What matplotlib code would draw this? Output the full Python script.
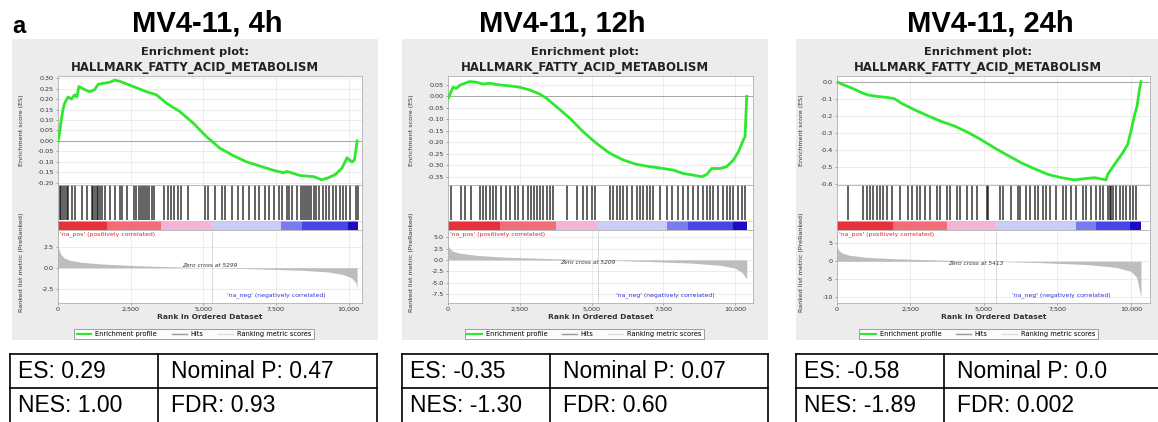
import matplotlib.pyplot as plt
from matplotlib.lines import Line2D
from matplotlib.patches import Rectangle

W, H = 1158, 422

# panel titles and table values
conditions = ["MV4-11, 4h", "MV4-11, 12h", "MV4-11, 24h"]
gene_set = "HALLMARK_FATTY_ACID_METABOLISM"
es_text = ["ES: 0.29", "ES: -0.35", "ES: -0.58"]
nes_text = ["NES: 1.00", "NES: -1.30", "NES: -1.89"]
pval_text = ["Nominal P: 0.47", "Nominal P: 0.07", "Nominal P: 0.0"]
fdr_text = ["FDR: 0.93", "FDR: 0.60", "FDR: 0.002"]
zero_cross = [5299, 5209, 5413]

# running enrichment score
es_rank_4h = [0, 55, 110, 170, 230, 345, 460, 575, 650, 720, 920, 1090, 1260, 1380, 1550,
              1780, 1950, 2125, 2585, 3045, 3390, 3735, 4195, 4655, 5115, 5575, 6035, 6495,
              6955, 7415, 7760, 7875, 8335, 8795, 9080, 9310, 9540, 9770, 9945, 10115, 10200,
              10265, 10290]
es_val_4h = [0.0, 0.04, 0.10, 0.15, 0.18, 0.21, 0.20, 0.22, 0.21, 0.26, 0.245, 0.235, 0.245,
             0.27, 0.275, 0.28, 0.29, 0.285, 0.26, 0.235, 0.22, 0.18, 0.14, 0.085, 0.02, -0.035,
             -0.07, -0.10, -0.12, -0.14, -0.152, -0.145, -0.165, -0.17, -0.185, -0.175, -0.16,
             -0.13, -0.08, -0.10, -0.09, -0.03, 0.0]
es_rank_12h = [0, 58, 175, 290, 430, 582, 756, 990, 1220, 1454, 1800, 2150, 2500, 2850, 3200,
               3430, 3780, 4245, 4710, 5175, 5640, 6106, 6570, 7035, 7500, 7850, 8200, 8550,
               8840, 9014, 9190, 9480, 9710, 9945, 10120, 10290, 10350, 10408]
es_val_12h = [-0.01, 0.006, 0.04, 0.035, 0.05, 0.057, 0.065, 0.062, 0.054, 0.057, 0.05, 0.046,
              0.04, 0.028, 0.01, -0.008, -0.045, -0.095, -0.154, -0.205, -0.248, -0.277,
              -0.296, -0.306, -0.314, -0.321, -0.336, -0.343, -0.35, -0.34, -0.314, -0.314,
              -0.306, -0.277, -0.241, -0.19, -0.175, 0.0]
es_rank_24h = [0, 147, 317, 430, 600, 827, 1053, 1393, 1733, 1960, 2186, 2640, 3093, 3546, 4000,
               4452, 4906, 5360, 5813, 6267, 6720, 7173, 7627, 8080, 8418, 8760, 9154, 9210,
               9440, 9720, 9890, 10003, 10117, 10208, 10287, 10344]
es_val_24h = [0.0, -0.014, -0.025, -0.033, -0.045, -0.064, -0.078, -0.087, -0.093, -0.10,
              -0.126, -0.165, -0.20, -0.233, -0.26, -0.297, -0.34, -0.388, -0.432, -0.475,
              -0.51, -0.543, -0.562, -0.575, -0.568, -0.562, -0.575, -0.543, -0.485, -0.417,
              -0.368, -0.29, -0.20, -0.145, -0.05, 0.0]

# positions of gene-set members in the ranked list
hits_4h = [60, 120, 180, 250, 310, 350, 465, 580, 810, 987, 1161, 1220, 1280, 1340, 1393, 1451,
           1510, 1625, 1800, 1973, 2147, 2205, 2379, 2611, 2700, 2780, 2850, 2920, 3000, 3075,
           3133, 3249, 3307, 3655, 3771, 3887, 4003, 4119, 4235, 4467, 5047, 5163, 5395, 5627,
           5743, 5975, 6207, 6381, 6555, 6787, 6903, 7135, 7251, 7425, 7599, 7715, 7889, 7947,
           8063, 8237, 8353, 8420, 8500, 8580, 8650, 8720, 8800, 8890, 8990, 9107, 9223, 9339,
           9455, 9571, 9687, 9803, 9919, 10035, 10267, 10325]
hits_12h = [117, 466, 582, 815, 1106, 1222, 1340, 1455, 1570, 1687, 1862, 2036, 2152, 2327,
            2443, 2617, 2792, 2890, 2990, 3090, 3199, 3315, 3432, 3548, 3664, 4129, 4478, 4711,
            4827, 5001, 5118, 5641, 5757, 5874, 5990, 6106, 6223, 6397, 6572, 6688, 6804, 6920,
            7037, 7153, 7386, 7618, 7793, 8025, 8200, 8374, 8549, 8723, 8898, 9014, 9130, 9247,
            9421, 9596, 9712, 9828, 9944, 10119, 10235, 10351]
hits_24h = [385, 895, 1008, 1122, 1235, 1348, 1462, 1575, 1688, 1858, 2141, 2425, 2538, 2708,
            2821, 2991, 3161, 3388, 3501, 3728, 3841, 4068, 4181, 4408, 4578, 4748, 5088, 5144,
            5541, 5654, 5937, 6164, 6220, 6447, 6560, 6730, 6843, 7013, 7127, 7240, 7466, 7693,
            7806, 7976, 8146, 8373, 8486, 8656, 8826, 8939, 9053, 9223, 9280, 9340, 9393, 9506,
            9620, 9733, 9846, 9959, 10073, 10186]

# ranked list metric
metric_rank_4h = [0, 30, 80, 200, 400, 800, 1500, 2500, 3500, 4500, 5299, 6500, 7500, 8500,
                  9300, 9800, 10100, 10250, 10290]
metric_val_4h = [2.9, 2.2, 1.7, 1.2, 0.9, 0.65, 0.45, 0.28, 0.16, 0.07, 0.0, -0.1, -0.2, -0.32,
                 -0.5, -0.8, -1.2, -1.8, -2.4]
metric_rank_12h = [0, 50, 150, 400, 1000, 2000, 3500, 5209, 7000, 8500, 9500, 10000, 10250,
                   10408]
metric_val_12h = [3.4, 2.6, 2.0, 1.5, 1.0, 0.6, 0.3, 0.0, -0.35, -0.7, -1.2, -1.8, -2.8, -4.2]
metric_rank_24h = [0, 50, 150, 400, 1000, 2000, 3500, 5413, 7000, 8500, 9500, 10000, 10200,
                   10344]
metric_val_24h = [4.2, 3.2, 2.4, 1.7, 1.1, 0.7, 0.35, 0.0, -0.4, -0.9, -1.7, -2.8, -4.5, -10.0]

# colour band segment boundaries (ranks)
band_edges_4h = [0, 1683, 3539, 5279, 7657, 8411, 9977, 10325]
band_edges_12h = [0, 1803, 3780, 5176, 7618, 8374, 9944, 10408]
band_edges_24h = [0, 1915, 3728, 5370, 8146, 8826, 9959, 10344]
band_colors = ["#e8303a", "#f06d78", "#f4b4da", "#cbcbf7", "#7b7bf0", "#4646e6", "#1c0cc4"]

es_ticks = [[0.30, 0.25, 0.20, 0.15, 0.10, 0.05, 0.00, -0.05, -0.10, -0.15, -0.20],
            [0.05, 0.00, -0.05, -0.10, -0.15, -0.20, -0.25, -0.30, -0.35],
            [0.0, -0.1, -0.2, -0.3, -0.4, -0.5, -0.6]]
es_fmt = ["{:.2f}", "{:.2f}", "{:.1f}"]
metric_ticks = [[2.5, 0.0, -2.5], [5.0, 2.5, 0.0, -2.5, -5.0, -7.5], [5, 0, -5, -10]]
metric_fmt = ["{:.1f}", "{:.1f}", "{:.0f}"]
rank_ticks = [0, 2500, 5000, 7500, 10000]

es_data = [(es_rank_4h, es_val_4h), (es_rank_12h, es_val_12h), (es_rank_24h, es_val_24h)]
hits_data = [hits_4h, hits_12h, hits_24h]
metric_data = [(metric_rank_4h, metric_val_4h), (metric_rank_12h, metric_val_12h),
               (metric_rank_24h, metric_val_24h)]
band_data = [band_edges_4h, band_edges_12h, band_edges_24h]

# layout in pixels
box_left = [12, 402, 796]
box_right = [378, 768, 1170]
ax_left = [58, 448, 837]
ax_right = [362, 753, 1150]
x_max = [10460, 10627, 10650]
es_ylim = [(-0.21, 0.31), (-0.386, 0.089), (-0.605, 0.033)]
metric_ylim = [(-4.2, 4.5), (-9.5, 6.6), (-11.6, 8.7)]
title_x = [207, 562, 990]
sub_x = [195, 585, 978]
legend_x = [194, 584, 978]
zc_text_x = [5220, 4880, 4730]
zc_above = [True, False, False]
neg_text_right = [9210, 9300, 9320]
table_left = [10, 402, 796]
table_split = [158, 550, 944]
table_right = [377, 768, 1170]

plt.rcParams["font.family"] = ["DejaVu Sans"]
fig = plt.figure(figsize=(W / 100, H / 100), dpi=100)
bg = fig.add_axes([0, 0, 1, 1])
bg.set_xlim(0, W)
bg.set_ylim(H, 0)
bg.axis("off")


def px_axes(l, t, r, b):
    return fig.add_axes([l / W, 1 - b / H, (r - l) / W, (b - t) / H])


def style_axes(ax):
    for s in ax.spines.values():
        s.set_color("#b0b0b0")
        s.set_linewidth(0.6)
    ax.tick_params(length=1.5, width=0.5, color="#888888", labelsize=4.6,
                   labelcolor="#333333", pad=1.5)


bg.text(12, 33, "a", fontsize=17, fontweight="bold", family="Liberation Sans")

for i in range(3):
    L, R = ax_left[i], ax_right[i]
    bg.add_patch(Rectangle((box_left[i], 39), box_right[i] - box_left[i], 301,
                           facecolor="#ececec", edgecolor="none"))
    bg.text(title_x[i], 23, conditions[i], fontsize=21, fontweight="bold",
            family="Liberation Sans", ha="center", va="center")
    bg.text(sub_x[i], 52, "Enrichment plot:", fontsize=8.2, fontweight="bold",
            ha="center", va="center", color="#222222")
    bg.text(sub_x[i], 67, gene_set, fontsize=8.4, fontweight="bold",
            ha="center", va="center", color="#222222")

    # running enrichment score
    ax = px_axes(L, 76, R, 185)
    ax.plot(*es_data[i], color="#2ee82e", lw=2.0, zorder=3)
    ax.axhline(0, color="#9a9a9a", lw=0.6)
    ax.set_xlim(0, x_max[i])
    ax.set_ylim(*es_ylim[i])
    ax.set_yticks(es_ticks[i])
    ax.set_yticklabels([es_fmt[i].format(v) for v in es_ticks[i]])
    ax.set_xticks(rank_ticks)
    ax.tick_params(axis="x", labelbottom=False, length=0)
    ax.grid(True, color="#e4e4e4", lw=0.5)
    style_axes(ax)
    bg.text(L - 36, 130, "Enrichment score (ES)", rotation=90, fontsize=4.6,
            ha="center", va="center", color="#333333")

    # hits and colour band
    ax = px_axes(L, 185, R, 230)
    ax.vlines(hits_data[i], 0.22, 1.0, color="black", lw=1.2, alpha=0.72)
    edges = band_data[i]
    ax.broken_barh([(edges[k], edges[k + 1] - edges[k]) for k in range(len(edges) - 1)],
                   (0.0, 0.2), facecolors=band_colors)
    ax.axhline(0.2, color="#cccccc", lw=0.5)
    ax.set_xlim(0, x_max[i])
    ax.set_ylim(0, 1)
    ax.set_xticks([])
    ax.set_yticks([])
    style_axes(ax)

    # ranked list metric
    ax = px_axes(L, 230, R, 303)
    mx, my = metric_data[i]
    ax.fill_between(mx, my, 0, color="#bdbdbd", lw=0)
    ax.axvline(zero_cross[i], color="#9a9a9a", lw=0.5, ls=(0, (1.5, 1.5)))
    ax.set_xlim(0, x_max[i])
    ax.set_ylim(*metric_ylim[i])
    ax.set_yticks(metric_ticks[i])
    ax.set_yticklabels([metric_fmt[i].format(v) for v in metric_ticks[i]])
    ax.set_xticks(rank_ticks)
    ax.set_xticklabels(["{:,}".format(v) for v in rank_ticks])
    ax.grid(True, color="#e4e4e4", lw=0.5)
    ax.set_axisbelow(True)
    style_axes(ax)
    ax.set_xlabel("Rank in Ordered Dataset", fontsize=5.4, fontweight="bold",
                  color="#333333", labelpad=1)
    ax.text(60, 0.985, "'na_pos' (positively correlated)", color="#e82020", fontsize=4.4,
            transform=ax.get_xaxis_transform(), va="top", ha="left")
    ax.text(neg_text_right[i], 0.11, "'na_neg' (negatively correlated)", color="#3030e0",
            fontsize=4.4, transform=ax.get_xaxis_transform(), va="center", ha="right")
    ax.text(zc_text_x[i], 0, "Zero cross at {}".format(zero_cross[i]), fontsize=4.2,
            color="#333333", ha="center", va="bottom" if zc_above[i] else "top",
            style="italic")
    bg.text(L - 36, 262, "Ranked list metric (PreRanked)", rotation=90, fontsize=4.6,
            ha="center", va="center", color="#333333")

    handles = [Line2D([], [], color="#2ee82e", lw=1.5),
               Line2D([], [], color="#9a9a9a", lw=1.0),
               Line2D([], [], color="#dddddd", lw=1.0)]
    leg = fig.legend(handles, ["Enrichment profile", "Hits", "Ranking metric scores"],
                     ncol=3, loc="center", bbox_to_anchor=(legend_x[i] / W, 1 - 334 / H),
                     fontsize=4.8, frameon=True, fancybox=False, handlelength=2.2,
                     columnspacing=2.2, handletextpad=0.6, borderpad=0.35)
    leg.get_frame().set_edgecolor("#777777")
    leg.get_frame().set_linewidth(0.6)

    # statistics table
    tl, ts, tr = table_left[i], table_split[i], table_right[i]
    for y in (354, 388):
        bg.plot([tl, tr], [y, y], color="black", lw=1.2)
    for x in (tl, ts, tr):
        bg.plot([x, x], [354, 430], color="black", lw=1.2)
    for txt, x, y in [(es_text[i], tl + 8, 371), (pval_text[i], ts + 13, 371),
                      (nes_text[i], tl + 8, 405), (fdr_text[i], ts + 13, 405)]:
        bg.text(x, y, txt, fontsize=16.5, family="Liberation Sans", ha="left", va="center")

fig.savefig("out.png", dpi=100)
